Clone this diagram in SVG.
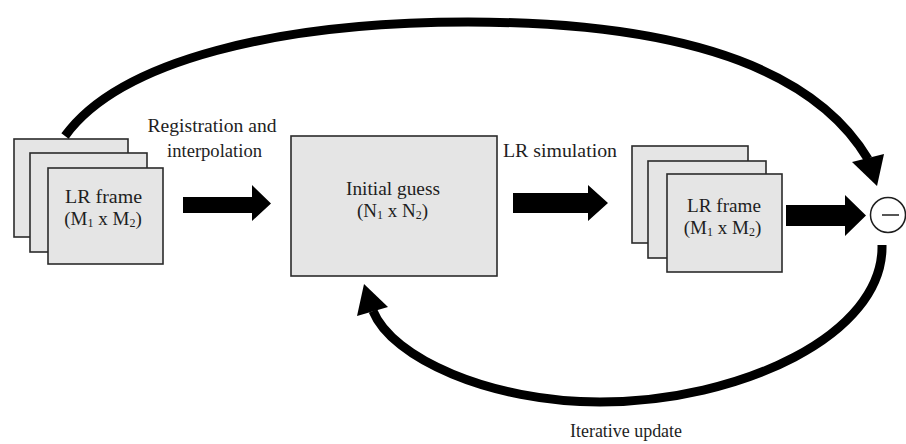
<svg xmlns="http://www.w3.org/2000/svg" width="906" height="444" viewBox="0 0 906 444">
  <style>
    .frame { fill: #e5e5e5; stroke: #2b2b2b; stroke-width: 1.6; }
    .lbl { font-family: "Liberation Serif", "Times New Roman", serif; font-size: 19px; fill: #1e1e1e; }
    .sub { font-size: 12px; }
    .blk { fill: #000; }
    .arc { fill: none; stroke: #000; stroke-width: 9; stroke-linecap: butt; }
  </style>
  <rect width="906" height="444" fill="#fff"/>

  <!-- input stack of low-resolution frames -->
  <g id="lr-input">
    <rect class="frame" x="14" y="139" width="114" height="98"/>
    <rect class="frame" x="30" y="153" width="117" height="99"/>
    <rect class="frame" x="48" y="168" width="115" height="96"/>
    <text class="lbl" x="103.5" y="203" text-anchor="middle" textLength="77" lengthAdjust="spacingAndGlyphs">LR frame</text>
    <text class="lbl" x="103" y="225" text-anchor="middle">(M<tspan class="sub" dy="2">1</tspan><tspan dy="-2"> x M</tspan><tspan class="sub" dy="2">2</tspan><tspan dy="-2">)</tspan></text>
  </g>

  <!-- high-resolution estimate -->
  <g id="initial-guess">
    <rect class="frame" x="291" y="136" width="206" height="140"/>
    <text class="lbl" x="393" y="195" text-anchor="middle" textLength="94" lengthAdjust="spacingAndGlyphs">Initial guess</text>
    <text class="lbl" x="392.5" y="217" text-anchor="middle">(N<tspan class="sub" dy="2">1</tspan><tspan dy="-2"> x N</tspan><tspan class="sub" dy="2">2</tspan><tspan dy="-2">)</tspan></text>
  </g>

  <!-- simulated low-resolution frames -->
  <g id="lr-simulated">
    <rect class="frame" x="632" y="146" width="116" height="97"/>
    <rect class="frame" x="648" y="161" width="118" height="97"/>
    <rect class="frame" x="667" y="174" width="115" height="98"/>
    <text class="lbl" x="724" y="212" text-anchor="middle" textLength="74" lengthAdjust="spacingAndGlyphs">LR frame</text>
    <text class="lbl" x="722.5" y="234" text-anchor="middle">(M<tspan class="sub" dy="2">1</tspan><tspan dy="-2"> x M</tspan><tspan class="sub" dy="2">2</tspan><tspan dy="-2">)</tspan></text>
  </g>

  <!-- difference operator -->
  <g id="subtract">
    <circle cx="888" cy="215" r="17.5" fill="#fff" stroke="#1e1e1e" stroke-width="1.5"/>
    <line x1="882" y1="215" x2="899" y2="215" stroke="#1e1e1e" stroke-width="1.5"/>
  </g>

  <!-- connectors -->
  <g id="connectors">
    <polygon class="blk" points="183,197 252,197 252,185 271,203.5 252,221 252,213 183,213"/>
    <polygon class="blk" points="513,193 588,193 588,185 608,203 588,221 588,213 513,213"/>
    <polygon class="blk" points="786,205 845,205 845,195 866,215.5 845,236 845,226 786,226"/>

    <path class="arc" d="M 65 136 C 120 60, 280 22, 468 22 C 620 22, 800 45, 868 159"/>
    <polygon class="blk" points="852,162 884,154 877,186"/>

    <path class="arc" d="M 882 245 C 884 335, 740 402, 600 402 C 490 402, 392 358, 373 311"/>
    <polygon class="blk" points="364,284 357,316 388,307"/>
  </g>

  <!-- edge labels -->
  <g id="labels">
    <text class="lbl" x="212" y="132" text-anchor="middle" textLength="129" lengthAdjust="spacingAndGlyphs">Registration and</text>
    <text class="lbl" x="214.5" y="157" text-anchor="middle" textLength="95" lengthAdjust="spacingAndGlyphs">interpolation</text>
    <text class="lbl" x="503" y="157" textLength="114" lengthAdjust="spacingAndGlyphs">LR simulation</text>
    <text class="lbl" x="626" y="437" text-anchor="middle" style="font-size:18px" textLength="112" lengthAdjust="spacingAndGlyphs">Iterative update</text>
  </g>
</svg>
